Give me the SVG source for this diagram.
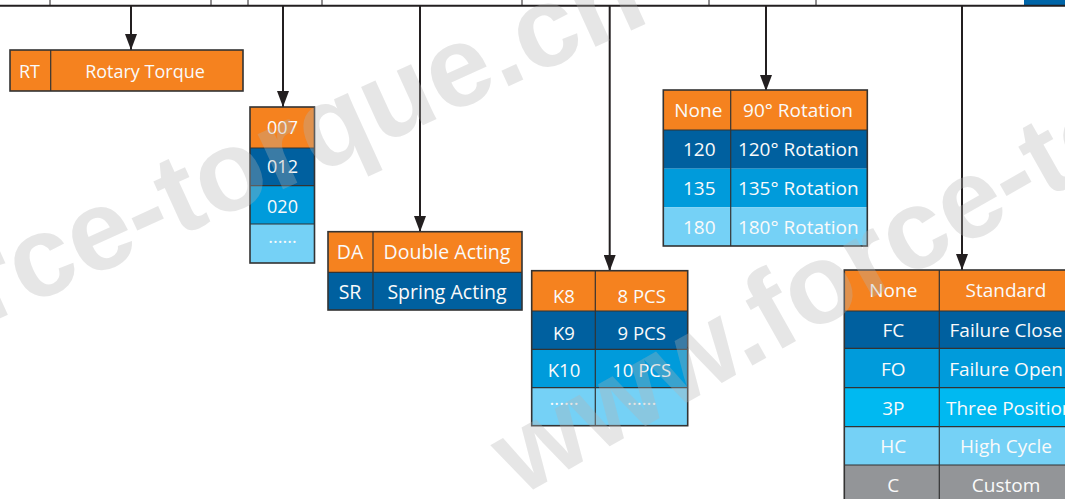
<svg xmlns="http://www.w3.org/2000/svg" width="1065" height="499" viewBox="0 0 1065 499">
<style>
.o{fill:#F5821F}.d{fill:#00609F}.m{fill:#009BDB}.c{fill:#00B9F1}.l{fill:#75D1F6}.g{fill:#939598}
.bd{fill:none;stroke:#333;stroke-width:1.6}
.sep{stroke:#333;stroke-width:1.2}
.t{font-family:"Open Sans","Liberation Sans",sans-serif;fill:#fafafa;text-anchor:middle;font-size:19px}
.t18{font-size:18px}
.cn{stroke:#231f20;stroke-width:2;fill:none}
.tick{stroke:#231f20;stroke-width:1}
.wm{font-family:"Liberation Sans",Arial,sans-serif;font-weight:bold;fill:#b4b4b4;opacity:0.32}
</style>
<defs>
<marker id="ah" viewBox="0 0 16 12" refX="16" refY="6" markerWidth="16" markerHeight="12" markerUnits="userSpaceOnUse" orient="auto">
<path d="M0,0 L16,6 L0,12 z" fill="#231f20"/>
</marker>
</defs>
<rect width="1065" height="499" fill="#fff"/>
<rect x="1024" y="0" width="41" height="5" fill="#0065A8"/>

<g id="connectors">
<line class="cn" x1="0" y1="5.8" x2="1065" y2="5.8"/>
<line class="tick" x1="50" y1="0" x2="50" y2="5"/>
<line class="tick" x1="211" y1="0" x2="211" y2="5"/>
<line class="tick" x1="248" y1="0" x2="248" y2="5"/>
<line class="tick" x1="322" y1="0" x2="322" y2="5"/>
<line class="tick" x1="522" y1="0" x2="522" y2="5"/>
<line class="tick" x1="709" y1="0" x2="709" y2="5"/>
<line class="tick" x1="816" y1="0" x2="816" y2="5"/>
<line class="cn" x1="131" y1="6" x2="131" y2="50" marker-end="url(#ah)"/>
<line class="cn" x1="283" y1="6" x2="283" y2="107" marker-end="url(#ah)"/>
<line class="cn" x1="420" y1="6" x2="420" y2="232" marker-end="url(#ah)"/>
<line class="cn" x1="609.7" y1="6" x2="609.7" y2="271" marker-end="url(#ah)"/>
<line class="cn" x1="766" y1="6" x2="766" y2="91" marker-end="url(#ah)"/>
<line class="cn" x1="962" y1="6" x2="962" y2="270" marker-end="url(#ah)"/>
</g>

<g id="node-rt">
<rect class="o" x="10" y="50" width="233" height="41"/>
<line class="sep" x1="50.7" y1="50" x2="50.7" y2="91"/>
<rect class="bd" x="10" y="50" width="233" height="41"/>
<text class="t t18" x="29.5" y="78.3">RT</text>
<text class="t t18" x="145" y="78.3">Rotary Torque</text>
</g>

<g id="node-size">
<rect class="o" x="250" y="107" width="64.5" height="41"/>
<rect class="d" x="250" y="148" width="64.5" height="37.7"/>
<rect class="m" x="250" y="185.7" width="64.5" height="38.3"/>
<rect class="l" x="250" y="224" width="64.5" height="39"/>
<line class="sep" x1="250" y1="148" x2="314.5" y2="148"/>
<line class="sep" x1="250" y1="185.7" x2="314.5" y2="185.7"/>
<line class="sep" x1="250" y1="224" x2="314.5" y2="224"/>
<rect class="bd" x="250" y="107" width="64.5" height="156"/>
<text class="t t18" x="282.5" y="134">007</text>
<text class="t t18" x="282.5" y="173.3">012</text>
<text class="t t18" x="282.5" y="212.7">020</text>
<text class="t t18" x="282.5" y="243">......</text>
</g>

<g id="node-action">
<rect class="o" x="328" y="231.7" width="194" height="40.6"/>
<rect class="d" x="328" y="272.3" width="194" height="37.7"/>
<line class="sep" x1="373" y1="231.7" x2="373" y2="310"/>
<line class="sep" x1="328" y1="272.3" x2="522" y2="272.3"/>
<rect class="bd" x="328" y="231.7" width="194" height="78.3"/>
<text class="t" style="font-size:19.5px" x="350" y="259.3">DA</text>
<text class="t" style="font-size:19.5px" x="447" y="259.3">Double Acting</text>
<text class="t" style="font-size:19.5px" x="350" y="299">SR</text>
<text class="t" style="font-size:19.5px" x="447" y="299">Spring Acting</text>
</g>

<g id="node-spring">
<rect class="o" x="531.7" y="270.7" width="156" height="40.3"/>
<rect class="d" x="531.7" y="311" width="156" height="38.3"/>
<rect class="m" x="531.7" y="349.3" width="156" height="38.4"/>
<rect class="l" x="531.7" y="387.7" width="156" height="38"/>
<line class="sep" x1="595.3" y1="270.7" x2="595.3" y2="425.7"/>
<line class="sep" x1="531.7" y1="311" x2="687.7" y2="311"/>
<line class="sep" x1="531.7" y1="349.3" x2="687.7" y2="349.3"/>
<line class="sep" x1="531.7" y1="387.7" x2="687.7" y2="387.7"/>
<rect class="bd" x="531.7" y="270.7" width="156" height="155"/>
<text class="t" style="font-size:18.5px" x="564" y="303.3">K8</text>
<text class="t" style="font-size:18.5px" x="641.7" y="303.3">8 PCS</text>
<text class="t" style="font-size:18.5px" x="564" y="340">K9</text>
<text class="t" style="font-size:18.5px" x="641.7" y="340">9 PCS</text>
<text class="t" style="font-size:18.5px" x="564" y="376.5">K10</text>
<text class="t" style="font-size:18.5px" x="641.7" y="376.5">10 PCS</text>
<text class="t" style="font-size:18.5px" x="564" y="405">......</text>
<text class="t" style="font-size:18.5px" x="641.7" y="405">......</text>
</g>

<g id="node-rotation">
<rect class="o" x="663.3" y="90" width="204" height="40"/>
<rect class="d" x="663.3" y="130" width="204" height="38.7"/>
<rect class="m" x="663.3" y="168.7" width="204" height="38.6"/>
<rect class="l" x="663.3" y="207.3" width="204" height="38.7"/>
<line class="sep" x1="730.7" y1="90" x2="730.7" y2="246"/>
<line class="sep" x1="663.3" y1="130" x2="867.3" y2="130"/>
<rect class="bd" x="663.3" y="90" width="204" height="156"/>
<text class="t" x="698.3" y="116.7">None</text>
<text class="t" x="798" y="116.7">90° Rotation</text>
<text class="t" x="699.3" y="156">120</text>
<text class="t" x="798.3" y="156">120° Rotation</text>
<text class="t" x="699.3" y="195">135</text>
<text class="t" x="798.3" y="195">135° Rotation</text>
<text class="t" x="699.3" y="234.3">180</text>
<text class="t" x="798.3" y="234.3">180° Rotation</text>
</g>

<g id="node-function">
<rect class="o" x="844.3" y="270" width="240" height="41"/>
<rect class="d" x="844.3" y="311" width="240" height="37.3"/>
<rect class="m" x="844.3" y="348.3" width="240" height="39.4"/>
<rect class="c" x="844.3" y="387.7" width="240" height="39"/>
<rect class="l" x="844.3" y="426.7" width="240" height="38.3"/>
<rect class="g" x="844.3" y="465" width="240" height="40"/>
<line class="sep" x1="939.3" y1="270" x2="939.3" y2="505"/>
<line class="sep" x1="844.3" y1="311" x2="1065" y2="311"/>
<line class="sep" x1="844.3" y1="348.3" x2="1065" y2="348.3"/>
<line class="sep" x1="844.3" y1="387.7" x2="1065" y2="387.7"/>
<line class="sep" x1="844.3" y1="426.7" x2="1065" y2="426.7"/>
<line class="sep" x1="844.3" y1="465" x2="1065" y2="465"/>
<rect class="bd" x="844.3" y="270" width="240" height="240"/>
<text class="t" x="893.3" y="297.3">None</text>
<text class="t" x="1006" y="297.3">Standard</text>
<text class="t" x="893.3" y="336.7">FC</text>
<text class="t" x="1006" y="336.7">Failure Close</text>
<text class="t" x="893.3" y="375.7">FO</text>
<text class="t" x="1006" y="375.7">Failure Open</text>
<text class="t" x="893.3" y="415">3P</text>
<text class="t" x="1006" y="415" style="text-anchor:start" dx="-60">Three Position</text>
<text class="t" x="893.3" y="453.3">HC</text>
<text class="t" x="1006" y="453.3">High Cycle</text>
<text class="t" x="893.3" y="491.7">C</text>
<text class="t" x="1006" y="491.7">Custom</text>
</g>

<g id="watermark">
<text class="wm" style="font-size:114.5px" x="652" y="21" text-anchor="end" transform="rotate(-24.5 652 21)">www.force-torque.cn</text>
<text class="wm" style="font-size:113px" x="520" y="497" transform="rotate(-29.5 520 497)">www.force-torque.cn</text>
</g>
</svg>
